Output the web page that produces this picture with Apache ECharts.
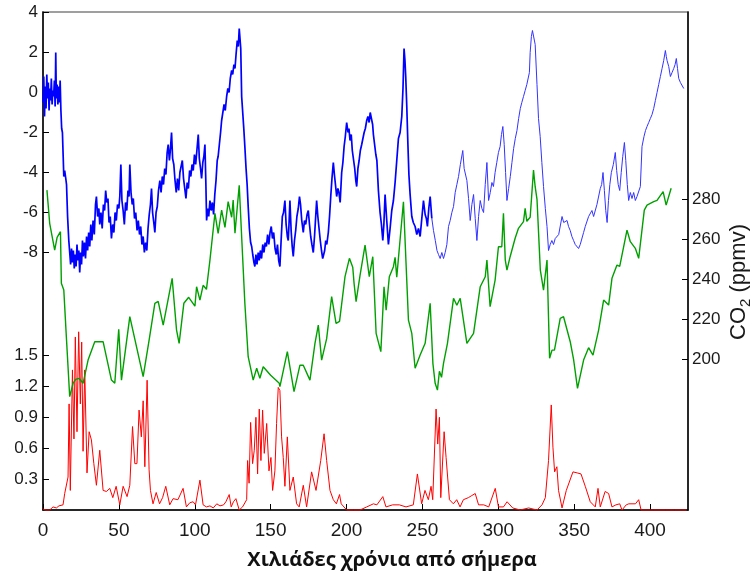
<!DOCTYPE html>
<html><head><meta charset="utf-8">
<script src="https://cdn.jsdelivr.net/npm/echarts@6/dist/echarts.min.js"></script>
<style>html,body{margin:0;padding:0;background:#fff}#c{width:756px;height:574px}</style>
</head><body><div id="c"></div>
<script>
// Age axis (thousands of years before present)
const xTicks = [0, 50, 100, 150, 200, 250, 300, 350, 400];
const tempTicks = [-8, -6, -4, -2, 0, 2, 4];
const co2Ticks = [200, 220, 240, 260, 280];
const dustTicks = [0.3, 0.6, 0.9, 1.2, 1.5];
const xLabel = 'Χιλιάδες χρόνια από σήμερα';

// Temperature anomaly [age, °C]
const tempData = [[0,-0.5],[0.5,0.8],[1,-1.2],[1.5,0.3],[2,-0.8],[2.5,0.9],[3,-0.3],[3.5,0.5],[4,-0.9],[4.5,0.2],[5,-0.4],[5.5,0.7],[6,-0.6],[6.5,0.1],[7,-0.2],[7.5,0.6],[8,-0.7],[8.4,2.0],[8.8,-0.3],[9.3,0.4],[9.8,-0.6],[10.3,0.3],[10.8,-0.5],[11.3,0.6],[11.8,-0.9],[12.3,-1.8],[12.8,-2.0],[13.3,-3.2],[13.7,-4.2],[14.3,-3.9],[15,-4.3],[15.5,-4.6],[16.2,-6.2],[17,-7.4],[17.6,-8.0],[18.2,-8.6],[18.8,-7.8],[19.4,-8.5],[20,-7.9],[20.6,-8.8],[21.2,-8.1],[21.8,-8.7],[22.4,-7.6],[23,-8.4],[23.6,-7.9],[24.2,-9.0],[24.8,-8.0],[25.4,-8.6],[26,-7.4],[26.6,-8.2],[27.3,-7.5],[28,-8.3],[28.7,-7.2],[29.4,-7.9],[30.1,-7.0],[30.8,-7.7],[31.5,-6.6],[32.2,-7.4],[33,-6.4],[33.8,-7.1],[34.6,-5.6],[35.2,-5.2],[36,-6.2],[36.8,-5.8],[37.4,-6.6],[38.2,-6.0],[39,-6.8],[39.8,-5.6],[40.6,-5.9],[41.3,-4.9],[42,-5.5],[42.8,-5.3],[43.5,-6.5],[44.3,-6.2],[45.1,-7.3],[45.9,-6.6],[46.7,-7.0],[47.5,-6.0],[48.3,-6.4],[49.1,-5.6],[50,-5.8],[50.6,-5.2],[51.3,-3.6],[52,-5.4],[52.8,-5.9],[53.6,-6.6],[54.4,-5.5],[55.2,-5.9],[56,-4.9],[56.7,-5.2],[57.2,-3.6],[58,-5.0],[58.8,-5.6],[59.5,-5.3],[60.3,-6.3],[61.1,-6.0],[62,-6.9],[62.8,-6.4],[63.6,-7.1],[64.4,-6.7],[65.2,-7.6],[66,-7.2],[66.8,-8.0],[67.6,-7.5],[68.4,-7.9],[69.2,-6.8],[70,-6.1],[70.8,-5.6],[71.5,-4.8],[72.2,-6.0],[73,-6.5],[73.7,-7.0],[74.5,-6.0],[75.3,-5.7],[76.1,-4.9],[77,-4.4],[77.8,-5.0],[78.6,-4.2],[79.4,-4.6],[80.2,-3.8],[81,-4.1],[81.8,-3.0],[82.5,-2.6],[83.3,-3.4],[84,-2.8],[84.7,-2.0],[85.4,-3.3],[86.2,-3.6],[87,-4.4],[87.8,-5.0],[88.6,-4.3],[89.4,-4.9],[90.2,-4.0],[91,-3.9],[91.8,-3.4],[92.6,-4.3],[93.4,-4.8],[94.2,-5.3],[95,-4.5],[95.8,-4.8],[96.6,-3.9],[97.4,-4.2],[98.2,-3.6],[99,-3.9],[99.8,-3.1],[100.6,-3.6],[101.4,-2.9],[102.3,-2.1],[103,-3.3],[103.8,-3.8],[104.5,-4.3],[105.3,-3.5],[106,-3.2],[106.7,-2.6],[107.3,-4.5],[107.8,-6.4],[108.5,-5.8],[109.2,-6.2],[110,-5.4],[110.8,-5.9],[111.6,-5.5],[112.4,-6.1],[113.2,-5.1],[114,-4.4],[114.8,-3.4],[115.4,-3.2],[116.2,-2.6],[117,-2.0],[117.7,-1.4],[118.5,-1.0],[119.3,-0.6],[120.1,-0.9],[121,-0.2],[121.8,0.2],[122.6,0.0],[123.4,0.7],[124.3,1.1],[125,0.9],[125.8,1.4],[126.5,1.2],[127.2,1.9],[128,2.6],[128.7,2.3],[129.3,3.2],[129.8,2.7],[130.3,2.2],[130.9,-0.2],[131.6,-1.0],[132.3,-1.8],[133,-2.7],[133.8,-3.8],[134.5,-4.6],[135.2,-5.7],[136,-6.8],[136.8,-7.5],[137.5,-7.7],[138.2,-8.1],[139,-8.5],[139.6,-8.7],[140.3,-8.1],[141,-8.6],[141.8,-8.0],[142.5,-8.4],[143.2,-7.9],[144,-8.3],[144.8,-7.6],[145.6,-8.0],[146.4,-7.5],[147.2,-7.7],[148,-7.1],[148.8,-7.6],[149.6,-7.0],[150.4,-6.7],[151.2,-7.3],[152,-7.0],[152.9,-7.8],[153.7,-8.1],[154.5,-7.6],[155.3,-8.4],[156.1,-8.7],[156.9,-7.4],[157.7,-6.2],[158.5,-6.0],[159.4,-5.4],[160.2,-6.6],[161,-7.2],[161.6,-7.4],[162.2,-6.4],[162.7,-5.4],[163.5,-6.9],[164.2,-7.7],[164.9,-8.2],[165.7,-7.4],[166.5,-6.9],[167.3,-6.2],[168.2,-5.8],[169,-5.2],[169.7,-5.6],[170.5,-6.4],[171.5,-7.0],[172.3,-6.4],[173.1,-6.6],[174,-6.1],[174.8,-5.9],[175.6,-6.6],[176.4,-7.2],[177.2,-7.6],[178.1,-8.0],[178.9,-7.2],[179.6,-6.3],[180.3,-5.4],[181.1,-6.2],[181.9,-6.8],[182.7,-7.4],[183.5,-7.9],[184.3,-8.3],[184.9,-8.4],[185.6,-7.9],[186.3,-7.4],[187,-7.6],[188,-7.0],[188.8,-6.2],[189.6,-5.2],[190.4,-4.3],[191.3,-3.5],[192,-4.1],[192.7,-4.6],[193.5,-5.2],[194.3,-4.8],[195,-5.0],[195.8,-5.5],[196.8,-4.0],[197.6,-3.5],[198.4,-2.7],[199.2,-2.2],[200.1,-1.5],[201,-2.0],[201.6,-1.8],[202.3,-2.4],[203.1,-2.1],[203.8,-2.9],[204.5,-3.0],[205.4,-3.8],[206.1,-4.4],[206.7,-4.7],[207.5,-3.8],[208.3,-3.4],[209.1,-2.9],[210,-2.6],[210.8,-2.3],[211.6,-2.0],[212.4,-1.8],[213.3,-1.4],[214.1,-1.2],[214.9,-1.5],[215.6,-1.0],[216.6,-0.9],[217.2,-1.6],[217.7,-2.1],[218.5,-2.6],[219.3,-3.1],[220,-3.4],[221,-4.9],[222.1,-6.0],[223,-6.6],[223.9,-7.4],[224.6,-6.6],[225.4,-5.1],[226.5,-6.4],[227.6,-7.6],[228.7,-6.8],[229.8,-5.9],[230.9,-5.4],[232,-4.5],[233.1,-3.4],[234.2,-2.3],[235.3,-2.0],[236.4,-1.2],[237.2,0.2],[237.9,2.2],[238.5,1.6],[239,0.8],[239.7,-0.7],[240.4,-2.5],[241.1,-4.1],[241.9,-5.1],[243,-6.2],[244,-6.5],[245.2,-6.7],[246.3,-7.1],[247.4,-6.8],[248.5,-7.2],[249.6,-6.3],[250.7,-5.4],[251.8,-6.1],[252.6,-6.3],[253.3,-6.7],[254.2,-5.8],[255.1,-5.2],[256.2,-6.3],[257.3,-6.9],[258.5,-7.4],[259.6,-7.9],[260.6,-8.1],[261.7,-8.3],[262.8,-8.0],[263.9,-8.3],[265,-8.0],[266.1,-7.6],[267.2,-6.7],[268.3,-6.4],[269.4,-6.0],[270.5,-5.7],[271.6,-5.0],[272.7,-4.6],[273.8,-4.2],[275,-3.6],[276.6,-2.9],[277.5,-3.8],[278.4,-3.9],[279.3,-4.4],[280.4,-5.3],[281.5,-6.4],[282.6,-5.6],[283.7,-5.1],[284.8,-6.3],[285.9,-7.4],[287,-6.2],[288.1,-5.4],[289.2,-5.8],[290.3,-6.0],[291.4,-4.6],[292.5,-3.5],[293.6,-5.4],[294.7,-5.0],[295.8,-4.5],[296.8,-4.7],[297.9,-4.0],[299,-3.5],[300.1,-3.0],[301.2,-2.7],[302.1,-2.1],[303,-1.7],[303.9,-2.6],[304.8,-4.0],[305.7,-5.4],[306.8,-4.8],[307.9,-4.2],[309,-3.5],[310.1,-2.8],[311.2,-2.3],[312.3,-1.9],[313.4,-1.3],[314.5,-0.8],[315.5,-0.5],[316.6,-0.2],[317.7,0.1],[318.8,0.4],[319.9,0.3],[320.5,1.0],[321,2.0],[321.8,2.8],[322.5,3.1],[323.3,3.0],[324.3,2.4],[325.5,0.4],[326.5,-1.3],[327.6,-2.2],[328.7,-3.5],[329.8,-4.7],[331,-5.8],[332.1,-6.7],[333.1,-7.9],[334.2,-7.6],[335.3,-7.4],[336.4,-7.6],[337.5,-7.3],[338.7,-7.3],[339.8,-7.1],[340.8,-7.0],[342,-6.2],[343.1,-6.5],[344.2,-6.6],[345.3,-6.4],[346.3,-6.7],[347.4,-6.9],[348.5,-7.2],[349.6,-7.4],[350.7,-7.6],[351.8,-7.5],[352.9,-7.8],[354,-7.6],[355.1,-7.5],[356.2,-7.0],[357.3,-6.7],[358.4,-6.6],[359.5,-6.2],[360.6,-6.3],[361.7,-5.9],[362.8,-6.2],[363.9,-6.1],[365,-5.6],[366.1,-5.5],[367.2,-4.8],[368.1,-4.6],[369,-4.0],[369.9,-4.9],[370.8,-5.9],[371.7,-6.5],[372.6,-5.4],[373.5,-4.6],[374.5,-4.0],[375.8,-3.6],[377.1,-3.0],[378,-3.9],[379,-4.6],[380,-4.9],[381,-4.0],[382,-3.2],[383.1,-2.5],[384,-3.4],[385,-4.6],[385.9,-5.4],[387,-5.0],[388.1,-5.3],[389.2,-5.0],[390.3,-5.4],[391.4,-5.2],[392.5,-5.3],[393.6,-4.7],[394.7,-2.7],[396,-2.2],[397,-1.9],[398,-1.7],[399.1,-1.5],[400.2,-1.3],[401.3,-1.1],[402.4,-0.8],[403.5,-0.4],[404.6,0.0],[405.7,0.4],[406.8,0.8],[407.9,1.2],[409,1.6],[410.1,2.1],[410.7,1.8],[411.2,1.6],[412.3,1.3],[413.4,0.8],[414.5,1.0],[415.6,1.2],[416.5,1.4],[417.3,1.7],[418.1,1.2],[418.9,0.7],[420,0.5],[421.1,0.4],[422.2,0.2]];

// CO2 [age, ppmv]
const co2Data = [[2.6,284.6],[4.4,268],[7.7,254.6],[9.3,261],[11.5,263.8],[12.1,238],[13.7,234.7],[15.4,211],[17.6,181.3],[19.8,188],[21.5,190],[23.7,190.5],[26.4,188],[29.7,199.6],[34.1,208.8],[39.6,208.8],[45.1,189.6],[47.3,188],[49.9,215],[51.7,189.6],[57.2,221.3],[66,191.3],[70,210],[73.7,228],[75.9,229],[79.2,217.1],[85.1,240.5],[88,214.6],[89.7,208],[92.8,228],[96,231],[100.1,226.6],[101.2,236.3],[103.4,229.6],[105.5,237],[107.7,235],[110,249.6],[113.3,273],[115.4,263],[117.7,274.6],[119.9,266],[122,278.8],[124.3,271],[125.3,279.6],[126.5,263],[128,276],[129.3,287],[130.9,261.3],[133,228],[135.2,201.3],[138.5,189.6],[140.8,195.5],[142.9,190.5],[145.1,196.3],[150,192],[155.7,188],[156.1,186.3],[161,203.8],[165.4,183.8],[169.3,197.1],[171.5,197],[175.9,189.6],[179.2,208],[181.4,217.1],[183.6,199.6],[186.9,210.3],[190.2,231.3],[191.4,231],[193.1,218],[195.4,219],[199,241.3],[201.9,250.5],[204.1,246],[205,237.7],[206.3,228.8],[208.9,242],[212.2,257.1],[215,241.3],[217.3,251.3],[219.5,213],[222.6,203.8],[224.7,236.3],[226.1,224.6],[228.2,241.3],[230.9,246.3],[232,251],[233.1,241],[237.5,278.8],[240.8,219.6],[243,213],[243.8,213],[245.2,195.5],[248.5,202.1],[251.8,208],[255.1,228],[256.9,198],[258.4,188],[259.9,184.6],[261.2,194],[262.6,191],[263.9,198],[266.5,208],[270.5,230.5],[272.7,227],[274.9,230.5],[279.3,208],[283.7,213],[288.1,236.3],[291.4,241.3],[292.5,249.6],[294.6,226.3],[297.9,239.6],[300.1,256.3],[302.3,256.3],[303.4,273],[304.6,249.6],[305.7,244.6],[307.8,251.3],[311.1,260.5],[313.3,265.5],[314.4,266.3],[316.6,268.8],[317.7,275.5],[318.8,269],[321,271],[323.2,294.6],[324.3,286.3],[325.5,280],[327.7,244.6],[329.8,234.6],[332.1,249.6],[333.8,200.5],[335.4,204.6],[337,204.6],[340.8,220.5],[343,221.3],[347.4,208.8],[349.6,200],[352.2,185.5],[356.2,199.6],[359.5,205.8],[362.4,202.1],[366.1,214.6],[369.4,229.6],[372.7,227.1],[374.9,240.5],[378.2,247.1],[380,246.5],[384.8,264.6],[387,258.8],[390.3,255.5],[392.5,250.5],[396.2,274.6],[398,277.1],[402.4,278.8],[404.6,279.5],[408.6,283.8],[410.6,277.1],[413.9,285.5]];

// Dust [age, ppm]
const dustData = [[0,0.01],[2,0.0],[4.4,0.0],[6.6,0.03],[8.8,0.02],[10.5,0.04],[13.2,0.05],[14.3,0.16],[16.5,0.32],[17.2,1.03],[18,0.19],[19.4,1.36],[20.4,0.69],[21.3,1.68],[22.4,0.76],[23.5,1.73],[24.6,1.03],[25.5,1.63],[26.4,0.57],[27.5,1.36],[29,0.36],[30.4,0.76],[31.9,0.68],[33.5,0.45],[35.2,0.24],[37.4,0.58],[39.6,0.19],[41.8,0.18],[44,0.21],[46,0.12],[48.2,0.23],[50.6,0.05],[52.8,0.23],[55.4,0.13],[57.2,0.24],[59,0.81],[60.5,0.45],[61.9,0.45],[63.3,0.97],[64.8,0.71],[66,1.06],[67.1,0.42],[68.6,1.26],[69.9,0.39],[70.8,0.19],[72.5,0.06],[74.6,0.17],[76.8,0.06],[78.8,0.12],[80.9,0.23],[83.5,0.05],[85.7,0.11],[88.9,0.1],[92.3,0.21],[94.5,0.03],[96.7,0.07],[98.9,0.08],[100.5,0.05],[103.4,0.29],[105.5,0.05],[107.7,0.03],[110,0.04],[112.2,0.02],[114.5,0.06],[116.6,0.04],[119,0.05],[120.5,0.08],[122.7,0.15],[124,0.03],[125.5,0.08],[127.1,0.11],[129.3,0.0],[131.5,0.03],[134.2,0.1],[134.8,0.48],[135.8,0.26],[136.8,0.85],[138.1,0.45],[139.2,0.58],[140.3,0.9],[141.4,0.35],[142.5,0.98],[143.6,0.48],[144.7,0.97],[145.8,0.55],[147.4,0.84],[148.9,0.38],[150.2,0.51],[151.3,0.19],[152.8,0.38],[153.9,0.84],[155,1.19],[156.1,1.16],[157.2,0.71],[158.3,0.51],[159.4,0.23],[161,0.71],[162.7,0.19],[164.9,0.32],[167.1,0.06],[168.8,0.03],[171.5,0.24],[173.7,0.03],[177,0.37],[179.9,0.19],[183,0.48],[185.2,0.74],[186.9,0.48],[189.1,0.19],[191.3,0.1],[193.3,0.06],[195.4,0.15],[196.5,0.06],[200.1,0.0],[204.5,0.0],[208.9,0.0],[213.3,0.03],[217.7,0.06],[220,0.05],[223.9,0.13],[226,0.03],[230.4,0.05],[234.8,0.05],[239.2,0.03],[244,0.05],[246.7,0.35],[249.5,0.06],[251.7,0.19],[253.9,0.1],[255.7,0.23],[256.8,0.1],[259,0.98],[260.1,0.64],[261.2,0.9],[262.1,0.12],[264.3,0.76],[265.6,0.51],[267.8,0.1],[270.4,0.06],[272.6,0.1],[274.8,0.03],[277,0.1],[280.3,0.12],[282.5,0.14],[284.8,0.16],[287,0.05],[290.4,0.05],[293.7,0.03],[298,0.21],[300.1,0.03],[303.4,0.03],[305.8,0.08],[309.5,0.02],[314.4,0.0],[320,0.02],[325.5,0.0],[328.8,0.05],[331,0.12],[333.1,0.48],[334.9,1.02],[336,0.61],[337.1,0.37],[338.6,0.42],[339.7,0.19],[342,0.02],[344.8,0.19],[349.2,0.37],[352,0.36],[354.5,0.35],[357.3,0.23],[360.6,0.08],[363.9,0.03],[365.7,0.21],[367.2,0.03],[370.4,0.18],[372.7,0.16],[374.9,0.03],[377.5,0.05],[380,0.06],[381.5,0.0],[384.3,0.05],[386,0.06],[390.4,0.06],[392.5,0.1],[394.1,0.0],[398,0.0],[402.4,0.0],[410,0.0],[416,0.0],[424,0.0]];

const FONT = 'Liberation Sans, Arial, sans-serif';
const L = 43, W = 645;
const chart = echarts.init(document.getElementById('c'), null, {renderer: 'canvas'});
const hiddenX = (g) => ({type: 'value', gridIndex: g, min: 0, max: 425, show: false});
const tickLbl = {fontSize: 17, color: '#1a1a1a', fontFamily: FONT};
const tempDense = tempData.filter(p => p[0] <= 256.2);
const tempSparse = tempData.filter(p => p[0] >= 256.2);

chart.setOption({
  animation: false,
  backgroundColor: '#fff',
  grid: [
    {left: L, width: W, top: 12, height: 498, show: true, borderColor: '#808080', borderWidth: 1.5, backgroundColor: 'transparent'},
    {left: L, width: W, top: 12.5, height: 240},
    {left: L, width: W, top: 355.5, height: 154.5}
  ],
  xAxis: [
    {type: 'value', gridIndex: 0, min: 0, max: 425, interval: 50,
     axisLine: {show: true, lineStyle: {color: '#000', width: 1.5}},
     axisTick: {show: true, inside: true, length: 6, lineStyle: {color: '#000', width: 1}, customValues: xTicks},
     axisLabel: {fontSize: 19, color: '#1a1a1a', fontFamily: FONT, margin: 11,
       customValues: xTicks, formatter: v => String(v)},
     splitLine: {show: false}},
    hiddenX(1), hiddenX(2)
  ],
  yAxis: [
    {type: 'value', gridIndex: 0, min: 0, max: 1, position: 'left', axisLine: {show: true, lineStyle: {color: '#000', width: 1.5}}, axisTick: {show: false}, axisLabel: {show: false}, splitLine: {show: false}},
    // CO2 axis on the right frame edge: 2 px per ppmv, 280 at y≈199
    {type: 'value', gridIndex: 0, min: 124.65, max: 373.65, position: 'right',
     axisLine: {show: true, lineStyle: {color: '#000', width: 1.5}},
     axisTick: {show: true, inside: true, length: 6, lineStyle: {color: '#000'}, customValues: co2Ticks},
     axisLabel: Object.assign({margin: 4, customValues: co2Ticks, formatter: v => String(Math.round(v))}, tickLbl), splitLine: {show: false}},
    {type: 'value', gridIndex: 1, min: -8, max: 4, interval: 2, position: 'left',
     axisLine: {show: false}, axisTick: {show: true, inside: true, length: 6, lineStyle: {color: '#000'}, customValues: tempTicks},
     axisLabel: Object.assign({margin: 5, customValues: tempTicks}, tickLbl), splitLine: {show: false}},
    {type: 'value', gridIndex: 2, min: 0, max: 1.5, interval: 0.3, position: 'left',
     axisLine: {show: false}, axisTick: {show: true, inside: true, length: 6, lineStyle: {color: '#000'}, customValues: dustTicks},
     axisLabel: Object.assign({margin: 5, customValues: dustTicks, formatter: v => v.toFixed(1)}, tickLbl), splitLine: {show: false}}
  ],
  series: [
    {type: 'line', xAxisIndex: 2, yAxisIndex: 3, data: dustData, showSymbol: false, clip: false,
     lineStyle: {color: '#ff0000', width: 1}, z: 3},
    {type: 'line', xAxisIndex: 0, yAxisIndex: 1, data: co2Data, showSymbol: false, clip: false,
     lineStyle: {color: '#00a000', width: 1.4}, z: 4},
    {type: 'line', xAxisIndex: 1, yAxisIndex: 2, data: tempDense, showSymbol: false, clip: false,
     lineStyle: {color: '#0000ff', width: 1.7}, z: 5},
    {type: 'line', xAxisIndex: 1, yAxisIndex: 2, data: tempSparse, showSymbol: false, clip: false,
     lineStyle: {color: '#3333ff', width: 1}, z: 5}
  ],
  graphic: [
    {type: 'text', x: 392, y: 560, style: {text: xLabel, align: 'center', verticalAlign: 'middle', fontSize: 20, fontWeight: 'bold', fontFamily: 'Open Sans, sans-serif', fill: '#111'}},
    {type: 'text', x: 739, y: 282, rotation: Math.PI / 2,
     style: {text: '{a|CO}{b|2}{a| (ppmv)}', align: 'center', verticalAlign: 'middle',
       rich: {a: {fontSize: 22, fontFamily: FONT, fill: '#1a1a1a', lineHeight: 28},
              b: {fontSize: 15, fontFamily: FONT, fill: '#1a1a1a', lineHeight: 28, verticalAlign: 'bottom', padding: [9, 0, 0, 0]}}}}
  ]
});
</script></body></html>
